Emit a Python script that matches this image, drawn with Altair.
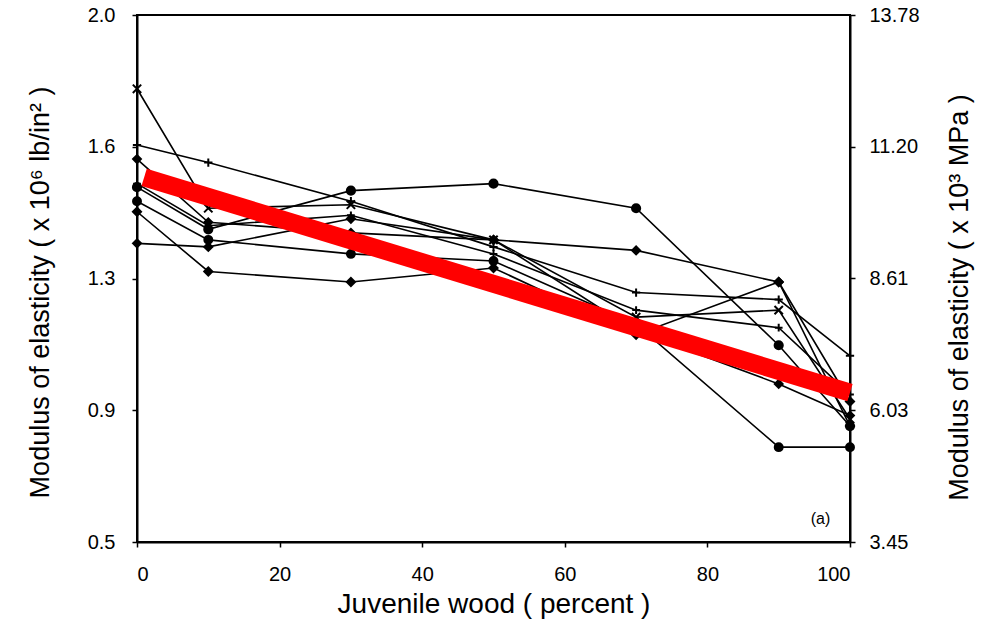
import altair as alt
import pandas as pd

# Juvenile wood content (percent) at which each board set was tested
juvenile_pct = [0, 10, 30, 50, 70, 90, 100]

# Modulus of elasticity (x 10^6 lb/in^2) for each series
moe_s1 = [1.79, 1.45, 1.46, 1.36, 1.14, 1.16, 0.85]
moe_s2 = [1.63, 1.58, 1.47, 1.34, 1.21, 1.19, 1.03]
moe_s3 = [1.51, 1.39, 1.50, 1.52, 1.45, 1.06, 0.83]
moe_s4 = [1.44, 1.27, 1.24, 1.28, 1.09, 1.24, 0.90]
moe_s5 = [1.35, 1.34, 1.42, 1.36, 1.33, 1.24, 0.83]
moe_s6 = [1.47, 1.36, 1.32, 1.30, 1.12, 0.77, 0.77]
moe_s7 = [1.59, 1.41, 1.38, 1.36, 1.10, 0.95, 0.86]
moe_s8 = [1.52, 1.40, 1.43, 1.32, 1.16, 1.11, 0.92]
series_names = ["S1", "S2", "S3", "S4", "S5", "S6", "S7", "S8"]

# Overall trend line end points
trend_x = [1, 100]
trend_y = [1.538, 0.925]

# Axis ticks and labels
x_ticks = [0, 20, 40, 60, 80, 100]
left_ticks = [0.5, 0.875, 1.25, 1.625, 2.0]
left_labels = ["0.5", "0.9", "1.3", "1.6", "2.0"]
right_ticks = [3.45, 6.0325, 8.615, 11.1975, 13.78]
right_labels = ["3.45", "6.03", "8.61", "11.20", "13.78"]

all_series = [moe_s1, moe_s2, moe_s3, moe_s4, moe_s5, moe_s6, moe_s7, moe_s8]
rows = []
for name, vals in zip(series_names, all_series):
    for x, v in zip(juvenile_pct, vals):
        rows.append({"series": name, "juv": x, "moe": v})
df = pd.DataFrame(rows)

trend_df = pd.DataFrame({"juv": trend_x, "moe": trend_y})
mpa_df = pd.DataFrame({"juv": [0, 100], "mpa": [right_ticks[0], right_ticks[-1]]})
note_df = pd.DataFrame({"juv": [94.5], "moe": [0.566], "txt": ["(a)"]})

FONT = "Liberation Sans"
x_cross = "M-1,-1L1,1M1,-1L-1,1"
plus = "M-1,0L1,0M0,-1L0,1"
shape_range = [x_cross, plus, "circle", "diamond", "diamond", "circle", "diamond", plus]
size_range = [70, 60, 55, 50, 45, 0, 40, 50]


def label_expr(ticks, labels):
    parts = []
    for t, l in zip(ticks, labels):
        parts.append(f"abs(datum.value - {t}) < 1e-6 ? '{l}' : ")
    return "".join(parts) + "''"


x_enc = alt.X(
    "juv:Q",
    scale=alt.Scale(domain=[0, 100], nice=False),
    axis=alt.Axis(
        values=x_ticks,
        title="Juvenile wood ( percent )",
        titleFontSize=28,
        titlePadding=6,
        labelPadding=17,
        grid=False,
    ),
)

y_left = alt.Y(
    "moe:Q",
    scale=alt.Scale(domain=[0.5, 2.0], nice=False, zero=False),
    axis=alt.Axis(
        values=left_ticks,
        labelExpr=label_expr(left_ticks, left_labels),
        title="Modulus of elasticity ( x 10⁶ lb/in² )",
        titleFontSize=27,
        titleY=277,
        titlePadding=33,
        labelPadding=17,
        grid=False,
    ),
)

lines = (
    alt.Chart(df)
    .mark_line(color="black", strokeWidth=1.6)
    .encode(x=x_enc, y=y_left, detail="series:N")
)

points = (
    alt.Chart(df)
    .mark_point(fill="black", stroke="black", strokeWidth=2, opacity=1)
    .encode(
        x="juv:Q",
        y="moe:Q",
        shape=alt.Shape("series:N", scale=alt.Scale(domain=series_names, range=shape_range), legend=None),
        size=alt.Size("series:N", scale=alt.Scale(domain=series_names, range=size_range), legend=None),
    )
)

trend = (
    alt.Chart(trend_df)
    .mark_line(color="#ff0000", strokeWidth=18, strokeCap="butt")
    .encode(x="juv:Q", y="moe:Q")
)

note = (
    alt.Chart(note_df)
    .mark_text(font=FONT, fontSize=16, color="black", align="left", baseline="middle")
    .encode(x="juv:Q", y="moe:Q", text="txt:N")
)

right_axis = (
    alt.Chart(mpa_df)
    .mark_point(opacity=0)
    .encode(
        x="juv:Q",
        y=alt.Y(
            "mpa:Q",
            scale=alt.Scale(domain=[right_ticks[0], right_ticks[-1]], nice=False, zero=False),
            axis=alt.Axis(
                orient="right",
                values=right_ticks,
                labelExpr=label_expr(right_ticks, right_labels),
                title="Modulus of elasticity ( x 10³ MPa )",
                titleFontSize=27,
                titleAngle=270,
                titleBaseline="top",
                titleY=282,
                titlePadding=27,
                labelPadding=14,
                grid=False,
            ),
        ),
    )
)

left_layer = alt.layer(lines, points, trend, note)

chart = (
    alt.layer(left_layer, right_axis)
    .resolve_scale(y="independent")
    .properties(
        width=713,
        height=527,
        autosize=alt.AutoSizeParams(type="none"),
        padding={"left": 137, "top": 15, "right": 136, "bottom": 83},
        background="white",
    )
    .configure_view(stroke="black", strokeWidth=2)
    .configure_axis(
        labelFont=FONT,
        titleFont=FONT,
        labelFontSize=20,
        labelColor="black",
        titleColor="black",
        titleFontWeight="normal",
        domainColor="black",
        domainWidth=2,
        tickColor="black",
        tickWidth=1.5,
        tickSize=5,
    )
)

chart.save("out.html", embed_options={"renderer": "svg", "actions": False})
